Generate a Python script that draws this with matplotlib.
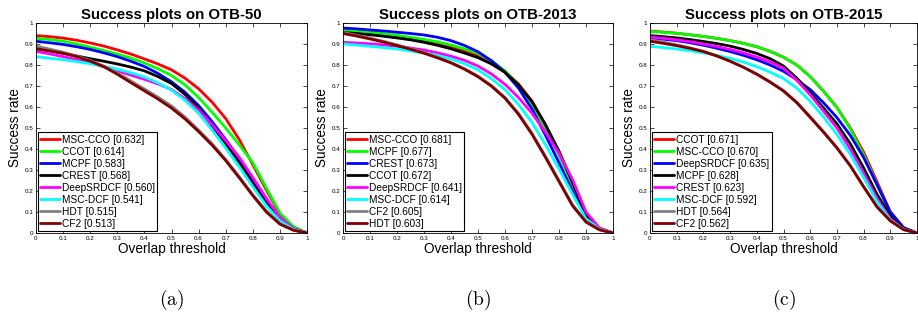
import matplotlib
matplotlib.use("Agg")
import matplotlib.pyplot as plt

plt.rcParams['font.family'] = ['Liberation Sans', 'DejaVu Sans']
plt.rcParams['mathtext.fontset'] = 'cm'

x = [0.0, 0.05, 0.1, 0.15, 0.2, 0.25, 0.3, 0.35, 0.4, 0.45, 0.5,
     0.55, 0.6, 0.65, 0.7, 0.75, 0.8, 0.85, 0.9, 0.95, 1.0]

colors = {
    'red': '#ff0000', 'green': '#00ff00', 'blue': '#0000ff', 'black': '#000000',
    'magenta': '#ff00ff', 'cyan': '#00ffff', 'gray': '#808080', 'darkred': '#800000',
}

# OTB-50
a_names = ['MSC-CCO [0.632]', 'CCOT [0.614]', 'MCPF [0.583]', 'CREST [0.568]',
           'DeepSRDCF [0.560]', 'MSC-DCF [0.541]', 'HDT [0.515]', 'CF2 [0.513]']
a_colors = ['red', 'green', 'blue', 'black', 'magenta', 'cyan', 'gray', 'darkred']
a_msccco = [0.94, 0.935, 0.928, 0.918, 0.905, 0.89, 0.872, 0.852, 0.829, 0.805, 0.777,
            0.737, 0.687, 0.623, 0.545, 0.445, 0.325, 0.205, 0.09, 0.028, 0.0]
a_ccot = [0.927, 0.921, 0.913, 0.90, 0.885, 0.869, 0.852, 0.833, 0.81, 0.782, 0.75,
          0.705, 0.645, 0.575, 0.50, 0.42, 0.335, 0.215, 0.095, 0.03, 0.0]
a_mcpf = [0.913, 0.906, 0.898, 0.887, 0.874, 0.858, 0.84, 0.818, 0.793, 0.76, 0.72,
          0.67, 0.607, 0.53, 0.445, 0.355, 0.25, 0.15, 0.07, 0.02, 0.0]
a_crest = [0.88, 0.868, 0.856, 0.843, 0.83, 0.818, 0.805, 0.79, 0.772, 0.745, 0.712,
           0.66, 0.595, 0.51, 0.425, 0.335, 0.235, 0.14, 0.062, 0.018, 0.0]
a_deepsrdcf = [0.865, 0.853, 0.84, 0.826, 0.81, 0.792, 0.772, 0.752, 0.732, 0.71, 0.683,
               0.64, 0.585, 0.515, 0.44, 0.36, 0.265, 0.165, 0.075, 0.02, 0.0]
a_mscdcf = [0.84, 0.832, 0.825, 0.816, 0.806, 0.794, 0.78, 0.763, 0.743, 0.715, 0.68,
            0.632, 0.57, 0.49, 0.405, 0.315, 0.22, 0.13, 0.058, 0.017, 0.0]
a_hdt = [0.89, 0.876, 0.861, 0.843, 0.822, 0.795, 0.762, 0.724, 0.686, 0.647, 0.605,
         0.552, 0.49, 0.425, 0.35, 0.268, 0.182, 0.105, 0.045, 0.014, 0.0]
a_cf2 = [0.877, 0.867, 0.856, 0.84, 0.818, 0.792, 0.756, 0.716, 0.677, 0.638, 0.595,
         0.543, 0.483, 0.418, 0.345, 0.263, 0.178, 0.10, 0.042, 0.013, 0.0]
a_series = [a_msccco, a_ccot, a_mcpf, a_crest, a_deepsrdcf, a_mscdcf, a_hdt, a_cf2]

# OTB-2013
b_names = ['MSC-CCO [0.681]', 'MCPF [0.677]', 'CREST [0.673]', 'CCOT [0.672]',
           'DeepSRDCF [0.641]', 'MSC-DCF [0.614]', 'CF2 [0.605]', 'HDT [0.603]']
b_colors = ['red', 'green', 'blue', 'black', 'magenta', 'cyan', 'gray', 'darkred']
b_msccco = [0.965, 0.96, 0.954, 0.947, 0.939, 0.929, 0.917, 0.903, 0.886, 0.867, 0.845,
            0.812, 0.768, 0.71, 0.628, 0.515, 0.385, 0.24, 0.09, 0.022, 0.0]
b_mcpf = [0.965, 0.961, 0.956, 0.949, 0.941, 0.932, 0.922, 0.91, 0.895, 0.877, 0.855,
          0.82, 0.772, 0.705, 0.615, 0.495, 0.37, 0.23, 0.085, 0.021, 0.0]
b_crest = [0.976, 0.972, 0.967, 0.962, 0.956, 0.95, 0.943, 0.932, 0.916, 0.893, 0.863,
           0.82, 0.765, 0.69, 0.59, 0.465, 0.335, 0.20, 0.075, 0.019, 0.0]
b_ccot = [0.955, 0.95, 0.944, 0.937, 0.929, 0.92, 0.908, 0.894, 0.877, 0.857, 0.835,
          0.805, 0.765, 0.705, 0.625, 0.515, 0.39, 0.24, 0.085, 0.021, 0.0]
b_deepsrdcf = [0.908, 0.905, 0.901, 0.896, 0.889, 0.881, 0.871, 0.858, 0.842, 0.822, 0.795,
               0.757, 0.708, 0.645, 0.57, 0.48, 0.38, 0.255, 0.10, 0.024, 0.0]
b_mscdcf = [0.90, 0.895, 0.889, 0.883, 0.876, 0.867, 0.857, 0.845, 0.829, 0.806, 0.777,
            0.735, 0.683, 0.612, 0.527, 0.42, 0.305, 0.185, 0.068, 0.018, 0.0]
b_cf2 = [0.955, 0.942, 0.928, 0.913, 0.896, 0.878, 0.859, 0.837, 0.812, 0.782, 0.747,
         0.702, 0.645, 0.57, 0.475, 0.365, 0.25, 0.135, 0.055, 0.016, 0.0]
b_hdt = [0.95, 0.938, 0.924, 0.909, 0.892, 0.875, 0.856, 0.834, 0.81, 0.78, 0.744,
         0.699, 0.642, 0.565, 0.47, 0.36, 0.245, 0.13, 0.052, 0.015, 0.0]
b_series = [b_msccco, b_mcpf, b_crest, b_ccot, b_deepsrdcf, b_mscdcf, b_cf2, b_hdt]

# OTB-2015
c_names = ['CCOT [0.671]', 'MSC-CCO [0.670]', 'DeepSRDCF [0.635]', 'MCPF [0.628]',
           'CREST [0.623]', 'MSC-DCF [0.592]', 'HDT [0.564]', 'CF2 [0.562]']
c_colors = ['red', 'green', 'blue', 'black', 'magenta', 'cyan', 'gray', 'darkred']
c_ccot = [0.962, 0.957, 0.951, 0.944, 0.936, 0.927, 0.916, 0.903, 0.887, 0.865, 0.837,
          0.80, 0.745, 0.675, 0.598, 0.50, 0.385, 0.245, 0.10, 0.025, 0.0]
c_msccco = [0.96, 0.956, 0.951, 0.944, 0.936, 0.927, 0.916, 0.903, 0.887, 0.865, 0.837,
            0.80, 0.745, 0.675, 0.598, 0.495, 0.372, 0.232, 0.092, 0.023, 0.0]
c_deepsrdcf = [0.929, 0.923, 0.916, 0.906, 0.894, 0.88, 0.864, 0.846, 0.825, 0.80, 0.77,
               0.73, 0.683, 0.62, 0.55, 0.465, 0.36, 0.23, 0.10, 0.025, 0.0]
c_mcpf = [0.94, 0.935, 0.929, 0.921, 0.912, 0.902, 0.89, 0.874, 0.855, 0.83, 0.795,
          0.737, 0.668, 0.595, 0.52, 0.425, 0.31, 0.185, 0.08, 0.02, 0.0]
c_crest = [0.933, 0.927, 0.92, 0.911, 0.90, 0.888, 0.874, 0.858, 0.838, 0.815, 0.785,
           0.727, 0.658, 0.58, 0.50, 0.40, 0.285, 0.165, 0.068, 0.018, 0.0]
c_mscdcf = [0.889, 0.883, 0.876, 0.868, 0.858, 0.846, 0.832, 0.814, 0.792, 0.766, 0.736,
            0.69, 0.627, 0.553, 0.47, 0.375, 0.265, 0.15, 0.062, 0.017, 0.0]
c_hdt = [0.92, 0.909, 0.896, 0.882, 0.865, 0.844, 0.818, 0.79, 0.757, 0.72, 0.678,
         0.623, 0.555, 0.482, 0.407, 0.322, 0.222, 0.124, 0.058, 0.016, 0.0]
c_cf2 = [0.913, 0.903, 0.892, 0.879, 0.864, 0.843, 0.818, 0.789, 0.756, 0.718, 0.676,
         0.62, 0.55, 0.48, 0.405, 0.32, 0.22, 0.125, 0.058, 0.016, 0.0]
c_series = [c_ccot, c_msccco, c_deepsrdcf, c_mcpf, c_crest, c_mscdcf, c_hdt, c_cf2]

titles = ['Success plots on OTB-50', 'Success plots on OTB-2013', 'Success plots on OTB-2015']
sublabels = ['(a)', '(b)', '(c)']
ticks = [0, 0.1, 0.2, 0.3, 0.4, 0.5, 0.6, 0.7, 0.8, 0.9, 1]
tick_labels = ['0', '0.1', '0.2', '0.3', '0.4', '0.5', '0.6', '0.7', '0.8', '0.9', '1']

fig = plt.figure(figsize=(9.18, 3.2), dpi=100)
W, H = 918.0, 320.0
boxes = [(36, 271), (343, 270), (650, 267)]
panels = [(a_names, a_colors, a_series), (b_names, b_colors, b_series), (c_names, c_colors, c_series)]

for i, ((l, w), (names, cols, series)) in enumerate(zip(boxes, panels)):
    ax = fig.add_axes([l / W, (H - 233) / H, w / W, 210 / H])
    handles = []
    for name, col, ys in zip(names, cols, series):
        h, = ax.plot(x, ys, color=colors[col], lw=2.0, label=name,
                     solid_joinstyle='round', solid_capstyle='round')
        handles.append(h)
    ax.set_xlim(0, 1)
    ax.set_ylim(0, 1)
    ax.set_xticks(ticks)
    ax.set_xticklabels(tick_labels)
    ax.set_yticks(ticks)
    ax.set_yticklabels(tick_labels)
    ax.tick_params(direction='in', top=True, right=True, labelsize=4.5, length=3, width=0.5, pad=2)
    for s in ax.spines.values():
        s.set_linewidth(0.6)
    ax.set_title(titles[i], fontsize=10.8, fontweight='bold', pad=3)
    ax.set_xlabel('Overlap threshold', fontsize=9.8, labelpad=1)
    ax.set_ylabel('Success rate', fontsize=9.8, labelpad=2)
    leg = ax.legend(handles=handles, labels=names, loc='lower left', fontsize=7.3,
                    frameon=True, fancybox=False, edgecolor='black', framealpha=1,
                    handlelength=2.0, handletextpad=0.15, borderpad=0.25, labelspacing=0.2,
                    borderaxespad=0.15)
    leg.get_frame().set_linewidth(0.8)
    fig.text((l + w / 2) / W, (H - 300) / H, r'$\mathrm{' + sublabels[i] + '}$',
             ha='center', va='center', fontsize=14)

fig.savefig('out.png', dpi=100)
